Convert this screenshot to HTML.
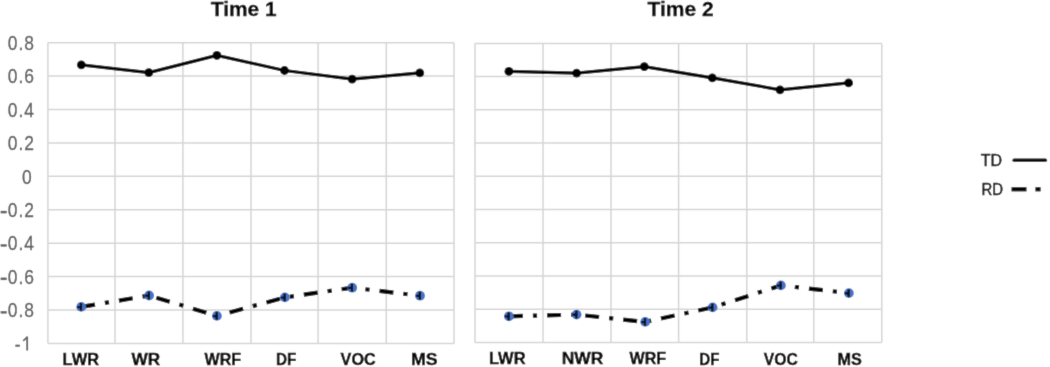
<!DOCTYPE html>
<html><head><meta charset="utf-8"><title>Time 1 / Time 2</title>
<style>html,body{margin:0;padding:0;background:#fff;font-family:"Liberation Sans",sans-serif;width:1050px;height:367px;overflow:hidden}svg{display:block}</style>
</head><body><svg width="1050" height="367" viewBox="0 0 1050 367"><defs><filter id="bl" x="0" y="0" width="1050" height="367" filterUnits="userSpaceOnUse"><feConvolveMatrix order="3" kernelMatrix="0.0183 0.1353 0.0183 0.1353 1 0.1353 0.0183 0.1353 0.0183" divisor="1.6146" edgeMode="duplicate" preserveAlpha="true"/></filter></defs><g filter="url(#bl)"><rect width="1050" height="367" fill="#fff"/><g stroke="#d5d5d5" stroke-width="1.5"><line x1="47.90" y1="42.70" x2="454.00" y2="42.70"/><line x1="47.90" y1="76.11" x2="454.00" y2="76.11"/><line x1="47.90" y1="109.52" x2="454.00" y2="109.52"/><line x1="47.90" y1="142.93" x2="454.00" y2="142.93"/><line x1="47.90" y1="176.34" x2="454.00" y2="176.34"/><line x1="47.90" y1="209.76" x2="454.00" y2="209.76"/><line x1="47.90" y1="243.17" x2="454.00" y2="243.17"/><line x1="47.90" y1="276.58" x2="454.00" y2="276.58"/><line x1="47.90" y1="309.99" x2="454.00" y2="309.99"/><line x1="47.90" y1="343.40" x2="454.00" y2="343.40"/><line x1="47.90" y1="42.70" x2="47.90" y2="343.40"/><line x1="115.00" y1="42.70" x2="115.00" y2="343.40"/><line x1="182.90" y1="42.70" x2="182.90" y2="343.40"/><line x1="251.00" y1="42.70" x2="251.00" y2="343.40"/><line x1="318.10" y1="42.70" x2="318.10" y2="343.40"/><line x1="386.30" y1="42.70" x2="386.30" y2="343.40"/><line x1="454.00" y1="42.70" x2="454.00" y2="343.40"/></g><g stroke="#d5d5d5" stroke-width="1.5"><line x1="475.00" y1="43.40" x2="881.80" y2="43.40"/><line x1="475.00" y1="76.62" x2="881.80" y2="76.62"/><line x1="475.00" y1="109.84" x2="881.80" y2="109.84"/><line x1="475.00" y1="143.07" x2="881.80" y2="143.07"/><line x1="475.00" y1="176.29" x2="881.80" y2="176.29"/><line x1="475.00" y1="209.51" x2="881.80" y2="209.51"/><line x1="475.00" y1="242.73" x2="881.80" y2="242.73"/><line x1="475.00" y1="275.96" x2="881.80" y2="275.96"/><line x1="475.00" y1="309.18" x2="881.80" y2="309.18"/><line x1="475.00" y1="342.40" x2="881.80" y2="342.40"/><line x1="475.00" y1="43.40" x2="475.00" y2="342.40"/><line x1="543.00" y1="43.40" x2="543.00" y2="342.40"/><line x1="611.00" y1="43.40" x2="611.00" y2="342.40"/><line x1="678.60" y1="43.40" x2="678.60" y2="342.40"/><line x1="746.80" y1="43.40" x2="746.80" y2="342.40"/><line x1="813.80" y1="43.40" x2="813.80" y2="342.40"/><line x1="881.80" y1="43.40" x2="881.80" y2="342.40"/></g><polyline points="81.3,64.8 148.8,72.6 216.9,55.4 284.5,70.5 352.1,79.1 419.8,72.9" fill="none" stroke="#000" stroke-width="3.2" stroke-linejoin="round"/><circle cx="81.3" cy="64.8" r="4.4"/><circle cx="148.8" cy="72.6" r="4.4"/><circle cx="216.9" cy="55.4" r="4.4"/><circle cx="284.5" cy="70.5" r="4.4"/><circle cx="352.1" cy="79.1" r="4.4"/><circle cx="419.8" cy="72.9" r="4.4"/><polyline points="508.9,71.4 576.6,73.1 644.3,66.6 712.3,77.9 780.0,89.8 848.6,82.9" fill="none" stroke="#000" stroke-width="3.2" stroke-linejoin="round"/><circle cx="508.9" cy="71.4" r="4.4"/><circle cx="576.6" cy="73.1" r="4.4"/><circle cx="644.3" cy="66.6" r="4.4"/><circle cx="712.3" cy="77.9" r="4.4"/><circle cx="780.0" cy="89.8" r="4.4"/><circle cx="848.6" cy="82.9" r="4.4"/><polyline points="81.2,306.9 149.1,295.5 216.9,315.9 284.9,297.4 352.2,287.7 420.0,295.7" fill="none" stroke="#000" stroke-width="4.2" stroke-dasharray="14 10 4.2 10"/><circle cx="81.2" cy="306.9" r="4.9" fill="#4472c4"/><circle cx="149.1" cy="295.5" r="4.9" fill="#4472c4"/><circle cx="216.9" cy="315.9" r="4.9" fill="#4472c4"/><circle cx="284.9" cy="297.4" r="4.9" fill="#4472c4"/><circle cx="352.2" cy="287.7" r="4.9" fill="#4472c4"/><circle cx="420.0" cy="295.7" r="4.9" fill="#4472c4"/><g transform="translate(81.2 306.9)" fill="#0a0f20"><rect x="-1.4" y="-4.2" width="2.3" height="8.4" rx="1"/><rect x="-4.3" y="-1.0" width="5" height="2.3" rx="1"/></g><g transform="translate(149.1 295.5)" fill="#0a0f20"><rect x="-1.4" y="-4.2" width="2.3" height="8.4" rx="1"/><rect x="-4.3" y="-1.0" width="5" height="2.3" rx="1"/></g><g transform="translate(216.9 315.9)" fill="#0a0f20"><rect x="-1.4" y="-4.2" width="2.3" height="8.4" rx="1"/><rect x="-4.3" y="-1.0" width="5" height="2.3" rx="1"/></g><g transform="translate(284.9 297.4)" fill="#0a0f20"><rect x="-1.4" y="-4.2" width="2.3" height="8.4" rx="1"/><rect x="-4.3" y="-1.0" width="5" height="2.3" rx="1"/></g><g transform="translate(352.2 287.7)" fill="#0a0f20"><rect x="-1.4" y="-4.2" width="2.3" height="8.4" rx="1"/><rect x="-4.3" y="-1.0" width="5" height="2.3" rx="1"/></g><g transform="translate(420.0 295.7)" fill="#0a0f20"><rect x="-1.4" y="-4.2" width="2.3" height="8.4" rx="1"/><rect x="-4.3" y="-1.0" width="5" height="2.3" rx="1"/></g><polyline points="508.9,316.3 576.6,314.6 645.2,321.9 712.6,307.4 780.9,285.4 848.9,293.1" fill="none" stroke="#000" stroke-width="4.2" stroke-dasharray="14 10 4.2 10"/><circle cx="508.9" cy="316.3" r="4.9" fill="#4472c4"/><circle cx="576.6" cy="314.6" r="4.9" fill="#4472c4"/><circle cx="645.2" cy="321.9" r="4.9" fill="#4472c4"/><circle cx="712.6" cy="307.4" r="4.9" fill="#4472c4"/><circle cx="780.9" cy="285.4" r="4.9" fill="#4472c4"/><circle cx="848.9" cy="293.1" r="4.9" fill="#4472c4"/><g transform="translate(508.9 316.3)" fill="#0a0f20"><rect x="-1.4" y="-4.2" width="2.3" height="8.4" rx="1"/><rect x="-4.3" y="-1.0" width="5" height="2.3" rx="1"/></g><g transform="translate(576.6 314.6)" fill="#0a0f20"><rect x="-1.4" y="-4.2" width="2.3" height="8.4" rx="1"/><rect x="-4.3" y="-1.0" width="5" height="2.3" rx="1"/></g><g transform="translate(645.2 321.9)" fill="#0a0f20"><rect x="-1.4" y="-4.2" width="2.3" height="8.4" rx="1"/><rect x="-4.3" y="-1.0" width="5" height="2.3" rx="1"/></g><g transform="translate(712.6 307.4)" fill="#0a0f20"><rect x="-1.4" y="-4.2" width="2.3" height="8.4" rx="1"/><rect x="-4.3" y="-1.0" width="5" height="2.3" rx="1"/></g><g transform="translate(780.9 285.4)" fill="#0a0f20"><rect x="-1.4" y="-4.2" width="2.3" height="8.4" rx="1"/><rect x="-4.3" y="-1.0" width="5" height="2.3" rx="1"/></g><g transform="translate(848.9 293.1)" fill="#0a0f20"><rect x="-1.4" y="-4.2" width="2.3" height="8.4" rx="1"/><rect x="-4.3" y="-1.0" width="5" height="2.3" rx="1"/></g><g font-family="Liberation Sans, sans-serif" font-size="20" fill="#5f5f5f" stroke="#5f5f5f" stroke-width="0.35" letter-spacing="1.1"><text x="0" y="0" text-anchor="end" transform="translate(34.8 50.00) scale(0.87 1)">0.8</text><text x="0" y="0" text-anchor="end" transform="translate(34.8 83.41) scale(0.87 1)">0.6</text><text x="0" y="0" text-anchor="end" transform="translate(34.8 116.82) scale(0.87 1)">0.4</text><text x="0" y="0" text-anchor="end" transform="translate(34.8 150.23) scale(0.87 1)">0.2</text><text x="0" y="0" text-anchor="end" transform="translate(32.599999999999994 183.64) scale(0.87 1)">0</text><text x="0" y="0" text-anchor="end" transform="translate(34.8 217.06) scale(0.87 1)">0.2</text><rect x="0.9" y="211.01" width="5.7" height="2.1"/><text x="0" y="0" text-anchor="end" transform="translate(34.8 250.47) scale(0.87 1)">0.4</text><rect x="0.9" y="244.42" width="5.7" height="2.1"/><text x="0" y="0" text-anchor="end" transform="translate(34.8 283.88) scale(0.87 1)">0.6</text><rect x="0.9" y="277.83" width="5.7" height="2.1"/><text x="0" y="0" text-anchor="end" transform="translate(34.8 317.29) scale(0.87 1)">0.8</text><rect x="0.9" y="311.24" width="5.7" height="2.1"/></g><g fill="#5f5f5f"><rect x="15.3" y="344.65" width="4.6" height="2.1"/><rect x="26.25" y="336.50" width="1.85" height="14.00"/></g><line x1="27.2" y1="337.10" x2="23.2" y2="340.80" stroke="#5f5f5f" stroke-width="1.8"/><g font-family="Liberation Sans, sans-serif"><text x="210.85" y="15.83" font-size="20.5" font-weight="bold" fill="#000" stroke="#000" stroke-width="0.3" textLength="65.83" lengthAdjust="spacingAndGlyphs">Time 1</text><text x="647.51" y="16.23" font-size="20.5" font-weight="bold" fill="#000" stroke="#000" stroke-width="0.3" textLength="66.10" lengthAdjust="spacingAndGlyphs">Time 2</text><text x="62.62" y="364.63" font-size="17.0" font-weight="bold" fill="#000" stroke="#000" stroke-width="0.4" textLength="36.53" lengthAdjust="spacingAndGlyphs">LWR</text><text x="131.54" y="365.07" font-size="17.0" font-weight="bold" fill="#000" stroke="#000" stroke-width="0.4" textLength="28.62" lengthAdjust="spacingAndGlyphs">WR</text><text x="204.61" y="364.65" font-size="17.0" font-weight="bold" fill="#000" stroke="#000" stroke-width="0.4" textLength="36.49" lengthAdjust="spacingAndGlyphs">WRF</text><text x="276.09" y="364.55" font-size="17.0" font-weight="bold" fill="#000" stroke="#000" stroke-width="0.4" textLength="20.31" lengthAdjust="spacingAndGlyphs">DF</text><text x="340.62" y="364.71" font-size="17.0" font-weight="bold" fill="#000" stroke="#000" stroke-width="0.4" textLength="35.03" lengthAdjust="spacingAndGlyphs">VOC</text><text x="410.99" y="365.28" font-size="17.0" font-weight="bold" fill="#000" stroke="#000" stroke-width="0.4" textLength="26.60" lengthAdjust="spacingAndGlyphs">MS</text><text x="488.99" y="364.23" font-size="17.0" font-weight="bold" fill="#000" stroke="#000" stroke-width="0.4" textLength="36.52" lengthAdjust="spacingAndGlyphs">LWR</text><text x="561.65" y="364.23" font-size="17.0" font-weight="bold" fill="#000" stroke="#000" stroke-width="0.4" textLength="41.58" lengthAdjust="spacingAndGlyphs">NWR</text><text x="629.61" y="364.25" font-size="17.0" font-weight="bold" fill="#000" stroke="#000" stroke-width="0.4" textLength="36.49" lengthAdjust="spacingAndGlyphs">WRF</text><text x="699.26" y="364.98" font-size="17.0" font-weight="bold" fill="#000" stroke="#000" stroke-width="0.4" textLength="20.13" lengthAdjust="spacingAndGlyphs">DF</text><text x="763.86" y="365.05" font-size="17.0" font-weight="bold" fill="#000" stroke="#000" stroke-width="0.4" textLength="34.04" lengthAdjust="spacingAndGlyphs">VOC</text><text x="837.43" y="364.64" font-size="17.0" font-weight="bold" fill="#000" stroke="#000" stroke-width="0.4" textLength="24.35" lengthAdjust="spacingAndGlyphs">MS</text><text x="980.82" y="166.22" font-size="17.0" font-weight="normal" fill="#111111" stroke="#111111" stroke-width="0.5" textLength="21.26" lengthAdjust="spacingAndGlyphs">TD</text><text x="981.56" y="195.49" font-size="17.0" font-weight="normal" fill="#111111" stroke="#111111" stroke-width="0.5" textLength="21.55" lengthAdjust="spacingAndGlyphs">RD</text></g><line x1="1014" y1="160.2" x2="1045.5" y2="160.2" stroke="#000" stroke-width="3.2" stroke-linecap="round"/><line x1="1011.5" y1="189.3" x2="1026.5" y2="189.3" stroke="#000" stroke-width="4.2"/><line x1="1035.4" y1="189.3" x2="1040.6" y2="189.3" stroke="#000" stroke-width="4.2"/></g></svg></body></html>
